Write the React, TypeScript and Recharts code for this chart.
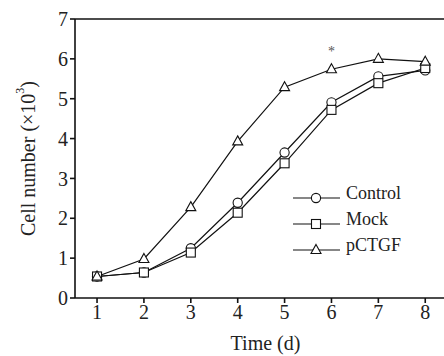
import { LineChart, Line, XAxis, YAxis, ReferenceLine, LabelList } from 'recharts'

const days = [1, 2, 3, 4, 5, 6, 7, 8]
const control = [0.54, 0.64, 1.25, 2.39, 3.65, 4.91, 5.56, 5.71]
const mock = [0.54, 0.64, 1.14, 2.14, 3.38, 4.72, 5.39, 5.77]
const pctgf = [0.54, 0.98, 2.28, 3.93, 5.29, 5.74, 6.0, 5.93]
const notes = ['', '', '', '', '', '*', '', '']
const yTicks = [0, 1, 2, 3, 4, 5, 6, 7]

const data = days.map((d, i) => ({
  day: d,
  control: control[i],
  mock: mock[i],
  pctgf: pctgf[i],
  note: notes[i],
}))

const font = '"Liberation Serif", "Times New Roman", serif'

type Shape = 'circle' | 'square' | 'triangle'

function Marker({ cx, cy, shape }: { cx: number; cy: number; shape: Shape }) {
  const common = { fill: '#fff', stroke: '#111', strokeWidth: 1.1 }
  if (shape === 'circle') return <circle cx={cx} cy={cy} r={4.6} {...common} />
  if (shape === 'square') return <rect x={cx - 4.5} y={cy - 4.5} width={9} height={9} {...common} />
  return <polygon points={`${cx},${cy - 5.5} ${cx + 5},${cy + 3.5} ${cx - 5},${cy + 3.5}`} {...common} />
}

const series: { key: string; name: string; shape: Shape }[] = [
  { key: 'control', name: 'Control', shape: 'circle' },
  { key: 'mock', name: 'Mock', shape: 'square' },
  { key: 'pctgf', name: 'pCTGF', shape: 'triangle' },
]

// legend drawn by hand, sitting over the lower-right part of the plot
function LegendBox() {
  return (
    <svg width={145} height={100} style={{ position: 'absolute', left: 290, top: 176 }}>
      {series.map((s, i) => {
        const y = 22 + i * 26
        return (
          <g key={s.key}>
            <line x1={3} x2={50} y1={y} y2={y} stroke="#111" strokeWidth={1.2} />
            <Marker cx={26} cy={y} shape={s.shape} />
            <text x={56} y={y + 1} fontSize={18} fontFamily={font} fill="#222">
              {s.name}
            </text>
          </g>
        )
      })}
    </svg>
  )
}

function YTitle(props: any) {
  const vb = props.viewBox || {}
  const cx = 28
  const cy = vb.y + vb.height / 2
  return (
    <text x={cx} y={cy} transform={`rotate(-90 ${cx} ${cy})`} textAnchor="middle" fontSize={20} fontFamily={font} fill="#222" dominantBaseline="central">
      Cell number (×10<tspan dy={-8} fontSize={12}>3</tspan><tspan dy={8}>)</tspan>
    </text>
  )
}

export default function App() {
  return (
    <div style={{ position: 'absolute', left: 0, top: 0, width: 444, height: 356, background: '#fff' }}>
      <LineChart width={444} height={356} data={data} margin={{ top: 19, right: 0, bottom: 28, left: 45 }}>
        <XAxis
          dataKey="day"
          type="number"
          domain={[0.53, 8.4]}
          ticks={days}
          allowDataOverflow
          stroke="#111"
          strokeWidth={1.6}
          tickSize={5}
          tick={{ fontSize: 20, fontFamily: font, fill: '#222' }}
          height={30}
          label={{ value: 'Time (d)', position: 'insideBottom', offset: -22, dx: 6, fontSize: 20, fontFamily: font, fill: '#222' }}
        />
        <YAxis
          type="number"
          domain={[0, 7]}
          ticks={yTicks}
          stroke="#111"
          strokeWidth={1.6}
          tickSize={5}
          tick={{ fontSize: 20, fontFamily: font, fill: '#222' }}
          width={30}
          label={<YTitle />}
        />
        <ReferenceLine y={7} stroke="#111" strokeWidth={1.4} />
        {series.map((s) => (
          <Line
            key={s.key}
            dataKey={s.key}
            name={s.name}
            type="linear"
            stroke="#111"
            strokeWidth={1.2}
            isAnimationActive={false}
            dot={(p: any) => <Marker key={`${s.key}-${p.index}`} cx={p.cx} cy={p.cy} shape={s.shape} />}
            activeDot={false}
          >
            {s.key === 'pctgf' && (
              <LabelList
                dataKey="note"
                content={(p: any) =>
                  p.value ? (
                    <text x={p.x} y={p.y - 13} textAnchor="middle" fontSize={14} fontFamily={font} fill="#555">
                      {p.value}
                    </text>
                  ) : null
                }
              />
            )}
          </Line>
        ))}
      </LineChart>
      <LegendBox />
    </div>
  )
}
